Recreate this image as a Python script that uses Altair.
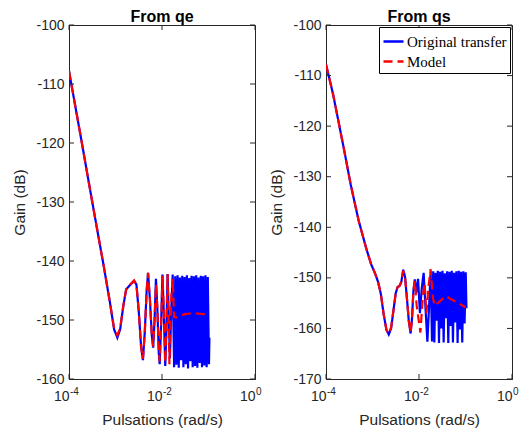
import altair as alt
import pandas as pd

# ---------------- data (log10 of pulsation, gain in dB) ----------------
qe_orig_logw = [-4.00, -3.75, -3.50, -3.25, -3.12, -3.03, -2.96, -2.90, -2.83, -2.77,
                -2.68, -2.60, -2.55, -2.50, -2.45, -2.41, -2.37, -2.33, -2.30, -2.26,
                -2.22, -2.19, -2.16, -2.13, -2.10, -2.07, -2.05, -2.02, -1.99, -1.96,
                -1.93, -1.90, -1.88, -1.85, -1.83, -1.80, -1.77, -1.74,
                -1.715, -1.690, -1.665, -1.640, -1.615, -1.590, -1.565, -1.540, -1.515, -1.490,
                -1.465, -1.440, -1.415, -1.390, -1.365, -1.340, -1.315, -1.290, -1.265, -1.240,
                -1.215, -1.190, -1.165, -1.140, -1.115, -1.090, -1.065, -1.040, -1.015, -0.990, -0.980]
qe_orig_gain = [-107.8, -118.8, -130.0, -141.0, -147.0, -151.6, -153.0, -151.6, -147.5, -144.8,
                -144.0, -143.4, -144.0, -148.5, -154.5, -156.8, -152.0, -145.0, -142.0, -146.5,
                -152.5, -154.7, -150.0, -143.0, -148.0, -155.5, -157.5, -151.0, -142.3, -149.0,
                -157.8, -150.0, -142.2, -150.5, -156.5, -148.0, -142.3, -158.0,
                -142.6, -157.6, -142.4, -158.1, -142.8, -156.8, -142.5, -158.0, -142.7, -157.5,
                -142.4, -158.2, -142.9, -157.0, -142.5, -158.0, -142.6, -157.8, -142.4, -158.1,
                -142.8, -157.3, -142.5, -158.0, -142.6, -157.7, -142.4, -158.0, -142.7, -157.5, -153.0]

qe_model_logw = [-4.00, -3.75, -3.50, -3.25, -3.12, -3.03, -2.96, -2.90, -2.83, -2.77,
                 -2.68, -2.60, -2.55, -2.50, -2.45, -2.41, -2.37, -2.33, -2.30, -2.26,
                 -2.22, -2.19, -2.16, -2.13, -2.10, -2.07, -2.05, -2.02, -1.99, -1.96,
                 -1.93, -1.90, -1.88, -1.84, -1.80, -1.77, -1.74, -1.70, -1.60, -1.50,
                 -1.40, -1.25, -1.10, -0.98]
qe_model_gain = [-107.8, -118.8, -130.0, -141.0, -147.0, -151.4, -152.6, -151.4, -147.5, -144.8,
                 -144.0, -143.3, -144.0, -148.5, -154.5, -156.6, -152.0, -145.0, -142.0, -146.5,
                 -152.5, -154.5, -150.0, -144.0, -148.0, -155.0, -157.0, -151.0, -142.5, -149.0,
                 -157.2, -150.0, -142.2, -157.5, -146.0, -143.0, -149.5, -149.6, -149.2, -149.0,
                 -148.9, -148.9, -149.0, -149.0]

qs_orig_logw = [-4.00, -3.85, -3.72, -3.60, -3.47, -3.30, -3.14, -3.03, -2.95, -2.88,
                -2.82, -2.76, -2.70, -2.65, -2.60, -2.55, -2.50, -2.46, -2.42, -2.38,
                -2.34, -2.30, -2.26, -2.22, -2.18, -2.15, -2.12, -2.09, -2.06, -2.02,
                -1.98, -1.94, -1.90, -1.86, -1.82, -1.78, -1.75, -1.72,
                -1.695, -1.670, -1.645, -1.620, -1.595, -1.570, -1.545, -1.520, -1.495, -1.470,
                -1.445, -1.420, -1.395, -1.370, -1.345, -1.320, -1.295, -1.270, -1.245, -1.220,
                -1.195, -1.170, -1.145, -1.120, -1.095, -1.070, -1.045, -1.020, -0.995, -0.980]
qs_orig_gain = [-107.8, -113.6, -119.6, -125.2, -131.5, -138.6, -144.0, -147.3, -149.0, -150.8,
                -153.2, -157.2, -160.3, -161.2, -160.0, -156.5, -153.0, -151.8, -151.6, -150.8,
                -148.4, -149.8, -154.0, -158.5, -161.0, -158.0, -152.5, -150.3, -153.0, -150.2,
                -157.0, -152.0, -149.0, -156.0, -162.6, -155.0, -148.8, -162.6,
                -148.7, -162.8, -149.0, -158.5, -148.6, -162.9, -148.8, -160.0, -148.6, -162.8,
                -149.1, -158.0, -148.7, -162.9, -148.8, -159.5, -148.6, -162.8, -149.0, -158.8,
                -148.7, -162.9, -148.6, -160.2, -148.8, -162.8, -148.7, -159.0, -148.9, -156.0]

qs_model_logw = [-4.00, -3.85, -3.72, -3.60, -3.47, -3.30, -3.14, -3.03, -2.95, -2.88,
                 -2.82, -2.76, -2.70, -2.65, -2.60, -2.55, -2.50, -2.46, -2.42, -2.38,
                 -2.34, -2.30, -2.26, -2.22, -2.18, -2.15, -2.12, -2.09, -2.05, -1.97,
                 -1.92, -1.88, -1.84, -1.80, -1.75, -1.70, -1.66, -1.60, -1.50, -1.42,
                 -1.30, -1.15, -1.00]
qs_model_gain = [-107.8, -113.6, -119.6, -125.2, -131.5, -138.6, -144.0, -147.3, -149.0, -150.8,
                 -153.2, -157.2, -160.3, -161.0, -159.8, -156.5, -153.0, -151.8, -151.6, -150.8,
                 -148.6, -149.8, -154.0, -158.5, -160.8, -158.0, -152.5, -150.6, -155.5, -160.8,
                 -154.0, -151.0, -157.0, -152.0, -148.3, -154.0, -155.5, -155.0, -154.2, -153.6,
                 -154.3, -155.0, -155.8]

series_names = ["Original transfer", "Model"]
series_colors = ["#0000ff", "#ff0000"]
series_dashes = [[1, 0], [9, 5]]

x_ticks = [1e-4, 1e-2, 1e0]
x_tick_exp = ["-4", "-2", "0"]
y_ticks_qe = [-160, -150, -140, -130, -120, -110, -100]
y_ticks_qs = [-170, -160, -150, -140, -130, -120, -110, -100]

W, H = 186, 354
AX = "#262626"
FONT = "Liberation Sans"


def make_df(logw, gain, name):
    return pd.DataFrame({"w": [10 ** v for v in logw], "g": gain,
                         "series": name, "i": list(range(len(logw)))})


def common_axis(**kw):
    return alt.Axis(grid=False, ticks=False, domainColor=AX, labelColor=AX, titleColor=AX,
                    labelFont=FONT, titleFont=FONT, labelFontSize=14, titleFontSize=15.5,
                    titleFontWeight="normal", **kw)


def panel(title, o_logw, o_gain, m_logw, m_gain, ydom, yticks, show_legend):
    xscale = alt.Scale(type="log", domain=[1e-4, 1])
    yscale = alt.Scale(domain=ydom, nice=False, zero=False)
    xaxis = common_axis(values=x_ticks, labelExpr="'10'", title="Pulsations (rad/s)",
                        labelAlign="right", labelPadding=10, labelBaseline="top",
                        titlePadding=9, labelFlush=False)
    yaxis = common_axis(values=yticks, labelExpr="'' + datum.value", title="Gain (dB)",
                        labelPadding=5, titlePadding=8)
    if show_legend:
        leg = alt.Legend(title=None, orient="none", legendX=53, legendY=2,
                         labelFont="Liberation Serif", labelFontSize=15, labelColor="black",
                         symbolType="stroke", symbolStrokeWidth=2.5, symbolSize=400,
                         strokeColor="black", fillColor="white", padding=3,
                         rowPadding=-5, labelOffset=2, cornerRadius=0)
    else:
        leg = None
    color = alt.Color("series:N", scale=alt.Scale(domain=series_names, range=series_colors), legend=leg)
    dash = alt.StrokeDash("series:N", scale=alt.Scale(domain=series_names, range=series_dashes), legend=leg)
    x = alt.X("w:Q", scale=xscale, axis=xaxis)
    y = alt.Y("g:Q", scale=yscale, axis=yaxis)
    enc = dict(x=x, y=y, color=color, strokeDash=dash, order="i:Q")
    blue = alt.Chart(make_df(o_logw, o_gain, series_names[0])).mark_line(strokeWidth=2.2, clip=True).encode(**enc)
    red = alt.Chart(make_df(m_logw, m_gain, series_names[1])).mark_line(strokeWidth=2.2, clip=True).encode(**enc)

    ydf = pd.DataFrame({"y": yticks})
    xdf = pd.DataFrame({"x": x_ticks, "e": x_tick_exp})
    yt = alt.Y("y:Q", scale=yscale, axis=yaxis)
    xt = alt.X("x:Q", scale=xscale, axis=xaxis)
    lt = alt.Chart(ydf).mark_rule(color=AX, strokeWidth=1).encode(y=yt, x=alt.value(0), x2=alt.value(5))
    rt = alt.Chart(ydf).mark_rule(color=AX, strokeWidth=1).encode(y=yt, x=alt.value(W - 5), x2=alt.value(W))
    bt = alt.Chart(xdf).mark_rule(color=AX, strokeWidth=1).encode(x=xt, y=alt.value(H - 5), y2=alt.value(H))
    tt = alt.Chart(xdf).mark_rule(color=AX, strokeWidth=1).encode(x=xt, y=alt.value(0), y2=alt.value(5))
    ex = alt.Chart(xdf).mark_text(align="left", baseline="alphabetic", fontSize=10, dx=1,
                                  font=FONT, color=AX).encode(x=xt, y=alt.value(H + 16), text="e:N")
    return alt.layer(blue, red, lt, rt, bt, tt, ex).properties(
        width=W, height=H,
        title=alt.TitleParams(title, fontSize=16, fontWeight="bold", font=FONT, color="black", offset=-7))


p1 = panel("From qe", qe_orig_logw, qe_orig_gain, qe_model_logw, qe_model_gain, [-160, -100], y_ticks_qe, False)
p2 = panel("From qs", qs_orig_logw, qs_orig_gain, qs_model_logw, qs_model_gain, [-170, -100], y_ticks_qs, True)

chart = alt.hconcat(p1, p2, spacing=71, bounds="flush").resolve_scale(
    color="independent", strokeDash="independent", x="independent", y="independent"
).properties(
    padding={"left": 4, "top": 0, "right": 2, "bottom": 0}, background="white"
).configure_view(stroke=AX, strokeWidth=1)

chart.save("out.html", embed_options={"renderer": "svg", "actions": False})
